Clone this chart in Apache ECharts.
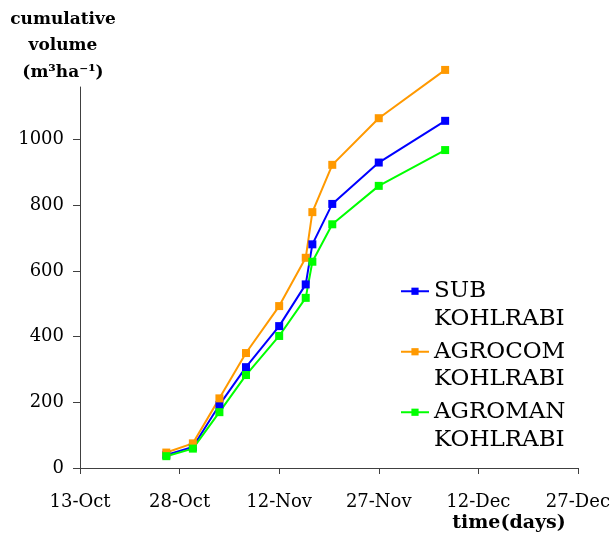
<!DOCTYPE html>
<html>
<head>
<meta charset="utf-8">
<script src="https://cdn.jsdelivr.net/npm/echarts@6/dist/echarts.min.js"></script>
<style>html,body{margin:0;padding:0;background:#fff}#c{width:613px;height:537px}</style>
</head>
<body>
<div id="c"></div>
<script>
const startDate = "2008-10-13";
const dates = ["2008-10-26","2008-10-30","2008-11-03","2008-11-07","2008-11-12","2008-11-16","2008-11-17","2008-11-20","2008-11-27","2008-12-07"];
const subKohlrabi = [40, 64, 192, 307, 432, 559, 681, 804, 930, 1057];
const agrocomKohlrabi = [47, 75, 212, 350, 493, 640, 779, 923, 1065, 1212];
const agromanKohlrabi = [36, 59, 170, 283, 402, 518, 628, 742, 859, 968];
const xTickLabels = ["13-Oct","28-Oct","12-Nov","27-Nov","12-Dec","27-Dec"];
const yLabelMax = 1000;
const yAxisLineMax = 1160;
const seriesNames = ["SUB\nKOHLRABI", "AGROCOM\nKOHLRABI", "AGROMAN\nKOHLRABI"];
const colors = ["#0000ff", "#ff9900", "#00ff00"];

const FONT = "DejaVu Serif";
const day0 = Date.parse(startDate);
const xDays = dates.map(d => Math.round((Date.parse(d) - day0) / 86400000));
const toPairs = vals => vals.map((v, i) => [xDays[i], v]);

// layout
const H = 537, gridBottom = 69, gridTopLine = 87;
const fullH = H - gridBottom - gridTopLine;
const dataGridTop = H - gridBottom - fullH * yLabelMax / yAxisLineMax;

const chart = echarts.init(document.getElementById('c'), null, {renderer: 'canvas'});
const L = 27.5;
const axisCol = '#404040';
chart.setOption({
  animation: false,
  backgroundColor: '#fff',
  textStyle: {fontFamily: FONT},
  grid: [
    {left: 80, right: 35, top: dataGridTop, bottom: gridBottom},
    {left: 80, right: 35, top: gridTopLine, bottom: gridBottom}
  ],
  xAxis: [{
    gridIndex: 0, type: 'value', min: 0, max: 75, interval: 15,
    axisLine: {lineStyle: {color: axisCol, width: 1}},
    axisTick: {length: 6, lineStyle: {color: axisCol}},
    splitLine: {show: false},
    axisLabel: {
      margin: 25, color: '#000', fontFamily: FONT, fontSize: 18,
      formatter: v => xTickLabels[Math.round(v / 15)] || ''
    }
  }, {
    gridIndex: 1, type: 'value', min: 0, max: 75, show: false
  }],
  yAxis: [{
    gridIndex: 0, type: 'value', min: 0, max: yLabelMax, interval: 200,
    axisLine: {show: true, lineStyle: {color: axisCol, width: 1}},
    axisTick: {show: true, length: 7, lineStyle: {color: axisCol}},
    splitLine: {show: false},
    axisLabel: {margin: 16, color: '#000', fontFamily: FONT, fontSize: 18, formatter: v => String(v)}
  }, {
    gridIndex: 1, type: 'value', min: 0, max: yAxisLineMax,
    axisLine: {show: true, lineStyle: {color: axisCol, width: 1}},
    axisTick: {show: false}, axisLabel: {show: false}, splitLine: {show: false}
  }],
  legend: {
    orient: 'vertical', left: 400, top: 250, padding: 0,
    itemWidth: 28, itemHeight: 9, itemGap: -22,
    data: seriesNames,
    formatter: name => ' \n' + name,
    textStyle: {fontFamily: FONT, fontSize: 23, color: '#000', lineHeight: L}
  },
  graphic: [
    {type: 'text', x: 63, y: 6, style: {
      text: 'cumulative\nvolume\n(m\u00b3ha\u207b\u00b9)',
      align: 'center', verticalAlign: 'top', lineHeight: 26.5,
      fontFamily: FONT, fontWeight: 'bold', fontSize: 17, fill: '#000'
    }},
    {type: 'text', x: 509, y: 523, style: {
      text: 'time(days)', align: 'center', verticalAlign: 'middle',
      fontFamily: FONT, fontWeight: 'bold', fontSize: 19, fill: '#000'
    }}
  ],
  series: [subKohlrabi, agrocomKohlrabi, agromanKohlrabi].map((vals, i) => ({
    name: seriesNames[i], type: 'line', data: toPairs(vals),
    xAxisIndex: 0, yAxisIndex: 0,
    symbol: 'rect', symbolSize: 8, clip: false,
    itemStyle: {color: colors[i]},
    lineStyle: {color: colors[i], width: 2}
  }))
});
</script>
</body>
</html>
